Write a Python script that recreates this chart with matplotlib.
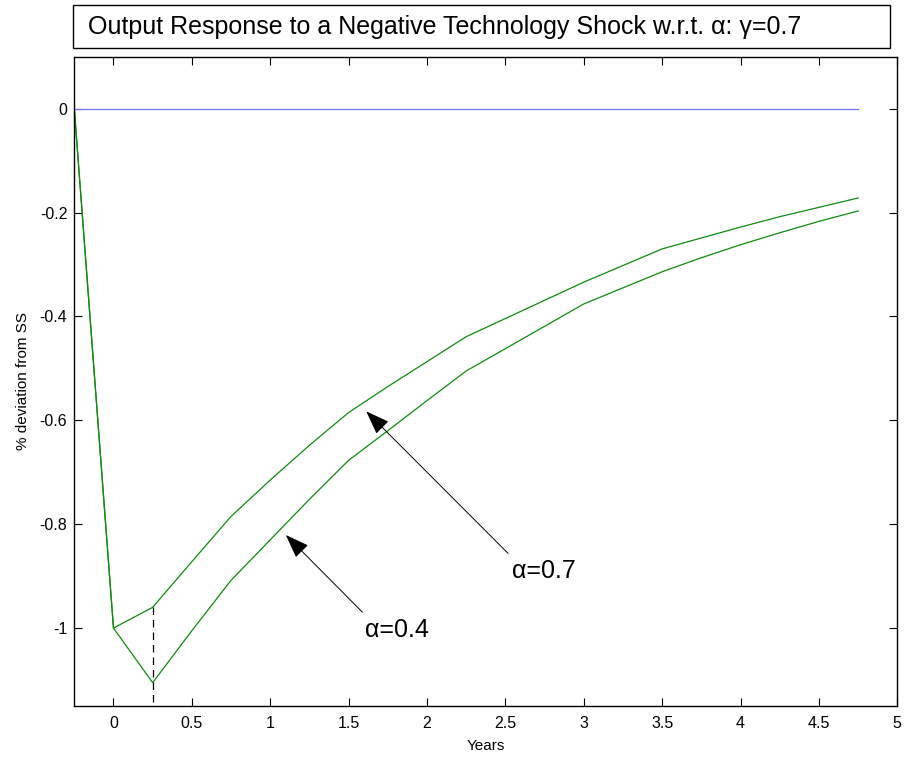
import matplotlib.pyplot as plt
import matplotlib.patches as patches
from matplotlib.ticker import FuncFormatter

plt.rcParams['font.family'] = ['Liberation Sans', 'DejaVu Sans']
plt.rcParams['axes.unicode_minus'] = False

# years after shock (quarterly)
years = [-0.25, 0, 0.25, 0.5, 0.75, 1.0, 1.25, 1.5, 1.75, 2.0, 2.25, 2.5,
         2.75, 3.0, 3.25, 3.5, 3.75, 4.0, 4.25, 4.5, 4.75]

# output response, % deviation from steady state
alpha_07 = [0, -1.0, -0.96, -0.872, -0.785, -0.715, -0.648, -0.585, -0.535,
            -0.487, -0.439, -0.404, -0.369, -0.334, -0.302, -0.270, -0.249,
            -0.228, -0.208, -0.190, -0.172]
alpha_04 = [0, -1.0, -1.105, -1.005, -0.908, -0.830, -0.752, -0.677, -0.620,
            -0.562, -0.505, -0.462, -0.419, -0.376, -0.345, -0.314, -0.287,
            -0.262, -0.239, -0.217, -0.197]
steady = [0] * len(years)

fig = plt.figure(figsize=(9.06, 7.59), dpi=100)
ax = fig.add_axes([0.082, 0.0698, 0.9084, 0.8555])

ax.plot(years, steady, color='#7373ff', lw=0.9)
ax.plot(years, alpha_07, color='#108a10', lw=0.9)
ax.plot(years, alpha_04, color='#108a10', lw=0.9)

# dashed marker at the trough quarter
ax.plot([years[2], years[2]], [alpha_07[2], -1.15], color='black', lw=0.9,
        ls=(0, (6, 4)))

ax.set_xlim(-0.25, 5)
ax.set_ylim(-1.15, 0.1)
ax.set_xticks([0, 0.5, 1, 1.5, 2, 2.5, 3, 3.5, 4, 4.5, 5])
ax.set_yticks([0, -0.2, -0.4, -0.6, -0.8, -1])
fmt = FuncFormatter(lambda v, p: '%g' % v)
ax.xaxis.set_major_formatter(fmt)
ax.yaxis.set_major_formatter(fmt)
ax.tick_params(direction='in', length=6, width=0.8, top=True, right=True,
               labelsize=11.5, pad=5)
ax.tick_params(axis='x', pad=7)
for s in ax.spines.values():
    s.set_linewidth(1.0)

ax.set_xlabel('Years', fontsize=11, labelpad=6)
ax.set_ylabel('% deviation from SS', fontsize=11, labelpad=7)

# annotations
arrow = dict(arrowstyle='-|>,head_length=1.5,head_width=0.55', color='black', lw=0.7)
ax.annotate('', xy=(1.60, -0.579), xytext=(2.53, -0.860), arrowprops=arrow)
ax.text(2.54, -0.89, 'α=0.7', fontsize=18, va='center', ha='left')
ax.annotate('', xy=(1.087, -0.817), xytext=(1.60, -0.973), arrowprops=arrow)
ax.text(1.607, -1.004, 'α=0.4', fontsize=18, va='center', ha='left')

# boxed title
box = patches.Rectangle((0.0802, 0.9364), 0.9022, 0.057, transform=fig.transFigure,
                        fill=False, edgecolor='black', lw=1.0)
fig.add_artist(box)
fig.text(0.097, 0.9644, 'Output Response to a Negative Technology Shock w.r.t. α: γ=0.7',
         fontsize=18, va='center', ha='left')

fig.savefig('out.png', dpi=100)
